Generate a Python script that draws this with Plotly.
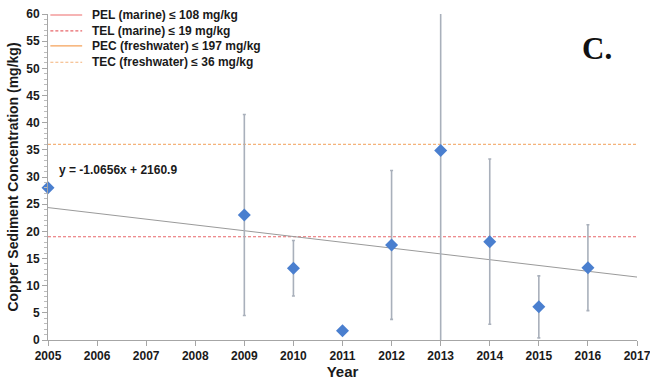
import plotly.graph_objects as go

# Copper sediment concentration by year (mean ± error)
years = [2005, 2009, 2010, 2011, 2012, 2013, 2014, 2015, 2016]
copper = [28.0, 23.0, 13.2, 1.7, 17.5, 34.9, 18.1, 6.1, 13.3]
copper_err = [0, 18.5, 5.1, 0, 13.7, 36.0, 15.2, 5.7, 7.9]

# Linear trend: y = slope * x + intercept
slope = -1.0656
intercept = 2160.9
trend_x = [2005, 2017]

# Sediment quality guidelines (mg/kg)
guide_names = ["PEL (marine)", "TEL (marine)", "PEC (freshwater)", "TEC (freshwater)"]
guide_values = [108, 19, 197, 36]
guide_colors = ["#ee6b6b", "#e8676b", "#f5a25a", "#f4b27a"]
guide_dash = ["solid", "3px,2px", "solid", "3px,2px"]

x_ticks = list(range(2005, 2018))

FONT = "Liberation Sans, Arial, sans-serif"

fig = go.Figure()

# Guideline reference lines (those above the axis range fall outside the view)
for val, col, dash in zip(guide_values, guide_colors, guide_dash):
    fig.add_trace(go.Scatter(x=trend_x, y=[val, val], mode="lines",
                             line=dict(color=col, width=1.2, dash=dash),
                             showlegend=False, hoverinfo="skip"))

# Trend line
fig.add_trace(go.Scatter(x=trend_x, y=[slope * x + intercept for x in trend_x],
                         mode="lines", line=dict(color="#9a9a9a", width=1),
                         showlegend=False, hoverinfo="skip"))

# Data with error bars
fig.add_trace(go.Scatter(
    x=years, y=copper, mode="markers",
    marker=dict(symbol="diamond", size=10, color="#4a7fcf"),
    error_y=dict(type="data", array=copper_err, visible=True,
                 color="#a9b0bb", thickness=1.6, width=1.5),
    showlegend=False, cliponaxis=False,
))

# Compact legend block in the upper-left corner
leg_rows = [0.997, 0.948, 0.902, 0.852]
for name, val, col, dash, yy in zip(guide_names, guide_values, guide_colors, guide_dash, leg_rows):
    fig.add_shape(type="line", xref="paper", yref="paper",
                  x0=0.004, x1=0.058, y0=yy, y1=yy,
                  line=dict(color=col, width=1.2, dash=dash))
    fig.add_annotation(x=0.072, y=yy, xref="paper", yref="paper",
                       xanchor="left", yanchor="middle", showarrow=False,
                       text=f"<b>{name} ≤ {val} mg/kg</b>",
                       font=dict(family=FONT, size=12, color="#1a1a1a"))

fig.add_annotation(x=2005.18, y=31.3, xref="x", yref="y",
                   xanchor="left", yanchor="middle",
                   text="<b>y = -1.0656x + 2160.9</b>", showarrow=False,
                   font=dict(family=FONT, size=12, color="#1a1a1a"))

fig.add_annotation(x=0.932, y=0.895, xref="paper", yref="paper",
                   xanchor="center", yanchor="middle",
                   text="<b>C.</b>", showarrow=False,
                   font=dict(family="Liberation Serif, Times New Roman, serif", size=31, color="#111"))

fig.update_layout(
    width=650, height=381,
    margin=dict(l=48, r=13, t=14, b=41, autoexpand=False),
    paper_bgcolor="white", plot_bgcolor="white",
    font=dict(family=FONT, size=12, color="#1a1a1a"),
    showlegend=False,
    xaxis=dict(range=[2005, 2017], tickvals=x_ticks,
               ticktext=[f"<b>{t}</b>" for t in x_ticks],
               ticklabeloverflow="allow",
               showgrid=False, zeroline=False, showline=True,
               linecolor="#a6a6a6", linewidth=1,
               ticks="outside", ticklen=5, tickcolor="#a6a6a6",
               title=dict(text="<b>Year</b>", font=dict(size=15), standoff=4)),
    yaxis=dict(range=[0, 60], dtick=5, tickformat="d",
               showgrid=False, zeroline=False, showline=True,
               linecolor="#a6a6a6", linewidth=1,
               ticks="outside", ticklen=5, tickcolor="#a6a6a6",
               tickprefix="<b>", ticksuffix="</b>",
               minor=dict(dtick=1, ticks="outside", ticklen=3, tickcolor="#bdbdbd"),
               title=dict(text="<b>Copper Sediment Concentration (mg/kg)</b>",
                          font=dict(size=14), standoff=4)),
)

fig.write_html("out.html")
